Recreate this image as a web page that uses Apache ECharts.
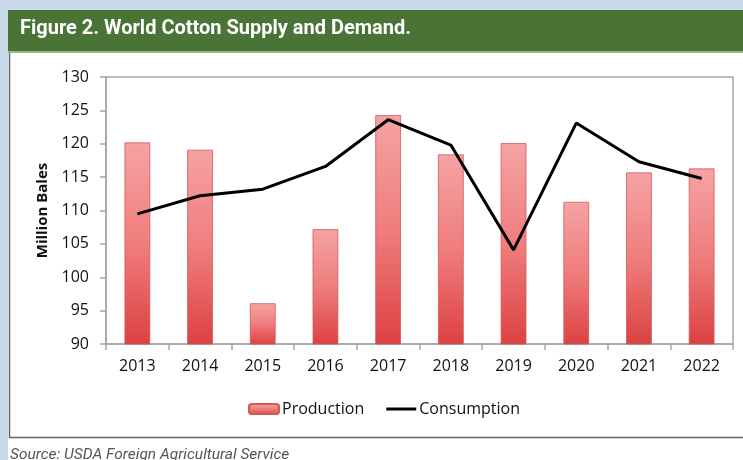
<!DOCTYPE html>
<html>
<head>
<meta charset="utf-8">
<script src="https://cdn.jsdelivr.net/npm/echarts@6/dist/echarts.min.js"></script>
<style>
html,body{margin:0;padding:0;background:#c9d9ea;}
#c{width:743px;height:460px;}
</style>
</head>
<body>
<div id="c"></div>
<script>
const years = ['2013','2014','2015','2016','2017','2018','2019','2020','2021','2022'];
const production = [120.2, 119.1, 96.1, 107.2, 124.3, 118.4, 120.1, 111.3, 115.7, 116.3];
const consumption = [109.5, 112.2, 113.2, 116.6, 123.6, 119.8, 104.1, 123.1, 117.3, 114.8];
const yMin = 90, yMax = 130, yStep = 5;

const chart = echarts.init(document.getElementById('c'));
const FONT = '"Open Sans", sans-serif';
chart.setOption({
  animation: false,
  backgroundColor: '#c9d9ea',
  graphic: [
    {type:'rect', shape:{x:8,y:10,width:735,height:42}, style:{fill:'#4a7336'}, z:-10},
    {type:'rect', shape:{x:8,y:51,width:735,height:2}, style:{fill:'#9ab48c'}, z:-9},
    {type:'rect', shape:{x:8,y:53,width:735,height:407}, style:{fill:'#ffffff'}, z:-10},
    {type:'line', shape:{x1:9.5,y1:53,x2:9.5,y2:437.5}, style:{stroke:'#666',lineWidth:1.5}, z:-5},
    {type:'line', shape:{x1:9,y1:437.5,x2:743,y2:437.5}, style:{stroke:'#666',lineWidth:1.5}, z:-5},
    {type:'text', left:20, top:19, style:{text:'Figure 2. World Cotton Supply and Demand.', fill:'#ffffff', font:'bold 20px Roboto, sans-serif'}},
    {type:'text', left:10, top:447, style:{text:'Source: USDA Foreign Agricultural Service', fill:'#555555', font:'italic 15.5px Roboto, sans-serif'}}
  ],
  grid: {left:106, right:10, top:77, bottom:116, show:true, borderColor:'#a6a6a6', borderWidth:1.5},
  legend: {
    left: 243, top: 396, itemWidth: 30, itemHeight: 10, itemGap: 22,
    textStyle: {fontFamily: FONT, fontSize: 16, color: '#111', padding:[0,0,0,-2]},
    data: [
      {name:'Production'},
      {name:'Consumption', icon:'path://M0,0H30V3H0Z', itemStyle:{color:'#000'}}
    ]
  },
  xAxis: {
    type: 'category', data: years,
    axisLine: {lineStyle:{color:'#a6a6a6', width:1.5}},
    axisTick: {show:true, length:6, lineStyle:{color:'#a6a6a6', width:1.5}},
    axisLabel: {fontFamily: FONT, fontSize: 16, color:'#111', margin:14}
  },
  yAxis: {
    type: 'value', min: yMin, max: yMax, interval: yStep,
    name: 'Million Bales', nameLocation: 'middle', nameGap: 56,
    nameTextStyle: {fontFamily: FONT, fontSize: 15, fontWeight: 'bold', color:'#111'},
    splitLine: {show:false},
    axisLine: {show:true, lineStyle:{color:'#a6a6a6', width:1.5}},
    axisTick: {show:true, length:6, lineStyle:{color:'#a6a6a6', width:1.5}},
    axisLabel: {fontFamily: FONT, fontSize: 16, color:'#111', margin:17}
  },
  series: [
    {
      name: 'Production', type: 'bar', data: production, barWidth: '41%',
      itemStyle: {
        color: new echarts.graphic.LinearGradient(0,0,0,1,[
          {offset:0, color:'#f5a3a3'},
          {offset:0.5, color:'#f07d7d'},
          {offset:1, color:'#dc4141'}
        ]),
        borderColor: '#cf5a5a', borderWidth: 0.8
      }
    },
    {
      name: 'Consumption', type: 'line', data: consumption, symbol: 'none',
      lineStyle: {color:'#000', width:3}, itemStyle:{color:'#000'}, z: 5
    }
  ]
});
</script>
</body>
</html>
